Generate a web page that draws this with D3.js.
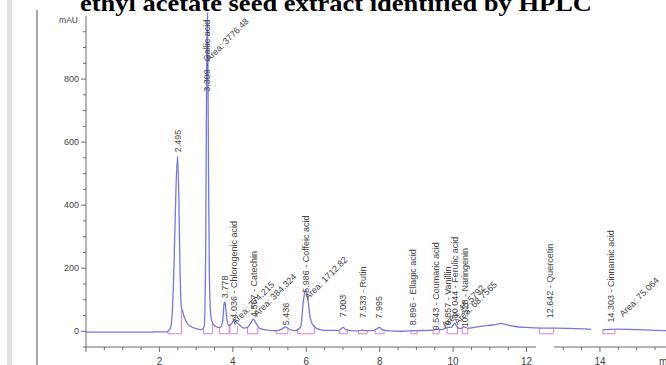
<!DOCTYPE html>
<html><head><meta charset="utf-8">
<script src="https://cdn.jsdelivr.net/npm/d3@7"></script>
<style>html,body{margin:0;padding:0;background:#fff;overflow:hidden}</style>
</head><body>
<svg id="c" width="666" height="365"></svg>
<script>
const titleText = "ethyl acetate seed extract identified by HPLC";
const yUnit = "mAU";
const xUnit = "min";
const yTicks = [0, 200, 400, 600, 800];
const xTicks = [2, 4, 6, 8, 10, 12, 14];

// retention time (min) and absorbance (mAU); null = break in the trace
const times = [0,1.8,1.85,2.2,2.3,2.35,2.4,2.45,2.495,2.53,2.56,2.6,2.63,2.68,2.75,2.85,3.0,3.15,3.22,3.26,3.29,3.309,3.33,3.36,3.4,3.45,3.55,3.65,3.72,3.76,3.778,3.8,3.84,3.9,3.97,4.036,4.1,4.2,4.3,4.4,4.48,4.56,4.63,4.72,4.85,5.0,5.2,5.35,5.436,5.52,5.7,5.85,5.92,5.986,6.04,6.1,6.18,6.3,6.5,6.9,6.97,7.003,7.08,7.3,7.5,7.533,7.6,7.85,7.95,7.995,8.06,8.2,8.6,9.0,9.4,9.543,9.7,9.8,9.857,9.95,10.044,10.1,10.2,10.3,10.4,10.6,10.8,11.0,11.2,11.3,11.45,11.7,12.0,12.4,12.8,13.2,13.76,13.9,14.08,14.5,15.0,15.5,16.2];
const signal = [-3,-3,-2,-2,10,60,220,450,555,420,200,75,64,44,26,15,8,5,14,250,900,1010,650,180,50,26,14,12,30,85,93,82,35,18,25,35,28,18,10,12,25,38,26,10,5,3,2,8,14,7,2,14,95,133,105,48,20,8,3,3,10,12,5,1,3,4,2,3,10,12,5,2,0,2,3,6,5,10,12,12,25,15,8,14,10,13,16,19,22,25,21,15,12,10,10,9,6,null,5,7,5,3,1];

// peak labels: retention time, text, label foot (mAU)
const peakTimes = [2.495,3.309,3.778,4.036,4.567,5.436,5.986,7.003,7.533,7.995,8.896,9.543,9.857,10.044,10.328,12.642,14.303];
const peakNames = ["2.495","3.309 - Gallic acid","3.778","4.036 - Chlorogenic acid","4.567 - Catechin","5.436","5.986 - Coffeic acid","7.003","7.533 - Rutin","7.995","8.896 - Ellagic acid","9.543 - Coumaric acid","9.857 - Vanillin","10.044 - Ferulic acid","10.328 - Naringenin","12.642 - Quercetin","14.303 - Cinnamic acid"];
const peakFoot = [568,760,105,40,45,19,122,44,42,40,19,3,19,41,13,41,28];

// area annotations: time, text, foot (mAU)
const areaTimes = [3.36,4.06,4.66,6.05,9.79,10.12,14.63];
const areaNames = ["Area: 3776.48","Area: 274.215","Area: 384.324","Area: 1712.82","Area: 45.5792","Area: 68.7565","Area: 75.064"];
const areaFoot = [854,19,44,98,8,19,44];

// integration baselines: start, end, signal at start, signal at end
const baseStart = [2.23,3.2,3.64,3.92,4.4,5.18,5.76,6.9,7.42,7.88,8.85,9.45,9.84,10.25,12.35,14.08];
const baseEnd   = [2.6,3.45,3.9,4.12,4.68,5.5,6.22,7.12,7.66,8.12,9.02,9.62,10.12,10.4,12.74,14.41];
const baseV0    = [-2,8,12,22,12,3,8,3,1,3,2,3,10,10,10,5];
const baseV1    = [66,25,20,16,12,6,20,4,2,4,2,5,15,10,10,7];
const baseLevel = -8;

// breaks in the axis line (min)
const axisGap = [12.26, 12.74];

const svg = d3.select("#c");
const x = d3.scaleLinear().domain([0, 16]).range([86, 86 + 16 * 36.71]);
const y = d3.scaleLinear().domain([-50, 1000]).range([347, 16]);

// page artefacts (left border)
svg.append("rect").attr("x", 7).attr("y", 0).attr("width", 5).attr("height", 365).attr("fill", "#e2e2e2");
svg.append("line").attr("x1", 37).attr("x2", 37).attr("y1", 10).attr("y2", 365).attr("stroke", "#8a8a8a").attr("stroke-width", 1.5);

// title (cut at top)
svg.append("text").attr("x", 336).attr("y", 11).attr("text-anchor", "middle")
  .attr("font-family", "Liberation Serif, Times New Roman, serif").attr("font-weight", "bold")
  .attr("font-size", 23).attr("textLength", 512).attr("lengthAdjust", "spacingAndGlyphs")
  .attr("fill", "#000").text(titleText);

const axisColor = "#6b6b6b";
const textColor = "#444";
const font = "Liberation Sans, Arial, sans-serif";

// y axis
svg.append("line").attr("x1", 86).attr("x2", 86).attr("y1", y(1000)).attr("y2", y(-50)).attr("stroke", axisColor);
d3.range(-50, 1000, 50).forEach(v => {
  const major = yTicks.includes(v);
  svg.append("line").attr("x1", 86 - (major ? 5 : 3)).attr("x2", 86).attr("y1", y(v)).attr("y2", y(v)).attr("stroke", axisColor);
});
svg.selectAll("text.yt").data(yTicks).join("text").attr("class", "yt")
  .attr("x", 79).attr("y", d => y(d) + 3).attr("text-anchor", "end")
  .attr("font-family", font).attr("font-size", 9).attr("fill", textColor).text(d => d);
svg.append("text").attr("x", 78).attr("y", 23).attr("text-anchor", "end")
  .attr("font-family", font).attr("font-size", 8.5).attr("fill", textColor).text(yUnit);

// x axis
const xa = y(-50);
svg.append("line").attr("x1", x(0)).attr("x2", x(axisGap[0])).attr("y1", xa).attr("y2", xa).attr("stroke", axisColor);
svg.append("line").attr("x1", x(axisGap[1])).attr("x2", 666).attr("y1", xa).attr("y2", xa).attr("stroke", axisColor);
d3.range(0, 16.01, 0.5).filter(t => t < axisGap[0] || t > axisGap[1]).forEach(t => {
  const major = Math.abs(t - Math.round(t / 2) * 2) < 1e-6;
  svg.append("line").attr("x1", x(t)).attr("x2", x(t)).attr("y1", xa).attr("y2", xa + (major ? 5 : 3)).attr("stroke", axisColor);
});
svg.selectAll("text.xt").data(xTicks).join("text").attr("class", "xt")
  .attr("x", d => x(d)).attr("y", 365).attr("text-anchor", "middle")
  .attr("font-family", font).attr("font-size", 10).attr("fill", textColor).text(d => d);
svg.append("text").attr("x", 659).attr("y", 365).attr("font-family", font).attr("font-size", 10).attr("fill", textColor).text(xUnit);

// clip
svg.append("clipPath").attr("id", "pc").append("rect").attr("x", 86).attr("y", 12).attr("width", 600).attr("height", 340);

// integration baselines
const g = svg.append("g").attr("clip-path", "url(#pc)");
baseStart.forEach((s, i) => {
  const e = baseEnd[i];
  g.append("path").attr("fill", "none").attr("stroke", "#e27bd0").attr("stroke-width", 1)
    .attr("d", `M${x(s)},${y(baseV0[i])}L${x(s)},${y(baseLevel)}L${x(e)},${y(baseLevel)}L${x(e)},${y(baseV1[i])}`);
});

// trace
const pts = times.map((t, i) => [t, signal[i]]);
const line = d3.line().defined(d => d[1] !== null).x(d => x(d[0])).y(d => y(d[1])).curve(d3.curveMonotoneX);
g.append("path").datum(pts).attr("fill", "none").attr("stroke", "#7676e0").attr("stroke-width", 1.3).attr("d", line);

// peak labels (vertical)
peakTimes.forEach((t, i) => {
  const px = x(t) + 3, py = y(peakFoot[i]);
  svg.append("text").attr("transform", `translate(${px},${py}) rotate(-90)`)
    .attr("font-family", font).attr("font-size", 9).attr("fill", textColor).text(peakNames[i]);
});
// area labels (diagonal)
areaTimes.forEach((t, i) => {
  const px = x(t), py = y(areaFoot[i]);
  svg.append("text").attr("transform", `translate(${px},${py}) rotate(-45)`)
    .attr("font-family", font).attr("font-size", 9).attr("fill", textColor).text(areaNames[i]);
});
</script>
</body></html>
